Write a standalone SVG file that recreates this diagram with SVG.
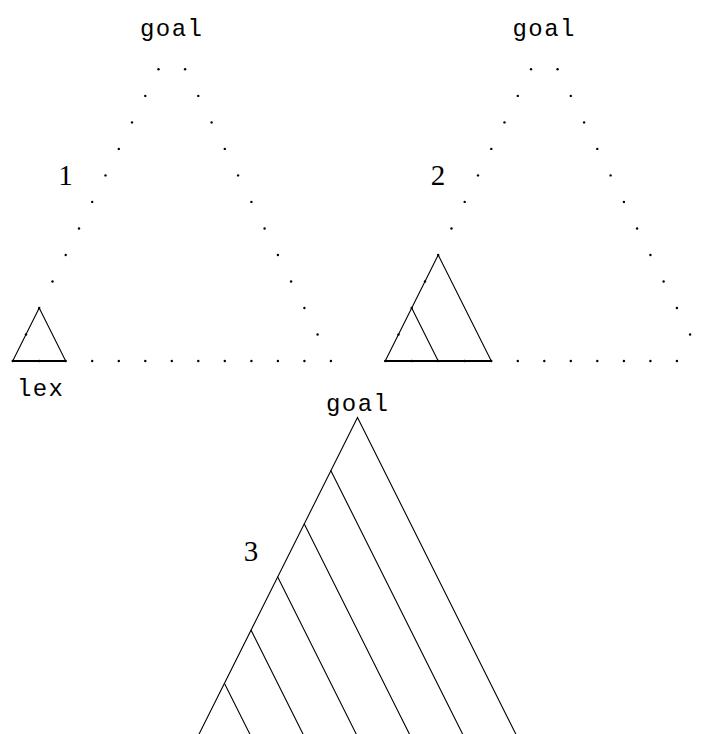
<svg xmlns="http://www.w3.org/2000/svg" width="701" height="734" viewBox="0 0 701 734">
<defs>
<style>
.mono{font-family:"Liberation Mono","DejaVu Sans Mono",monospace;font-size:24px;fill:#000}
.num{font-family:"Liberation Serif","DejaVu Serif",serif;font-size:29px;fill:#000}
.ln{stroke:#000;stroke-width:1.1;fill:none;stroke-linecap:round}
.base{stroke:#000;stroke-width:2.2;fill:none}
.dot{fill:#000}
</style>
<circle id="d" r="1.2"/>
</defs>
<rect width="701" height="734" fill="#fff"/>

<g id="panel1">
<text class="mono" x="171" y="36" text-anchor="middle" textLength="62" lengthAdjust="spacing">goal</text>
<text class="num" x="65.5" y="185" text-anchor="middle">1</text>
<text class="mono" x="40" y="396" text-anchor="middle" textLength="46" lengthAdjust="spacing">lex</text>
<g class="dot">
<use href="#d" x="158.5" y="69.3"/><use href="#d" x="145.3" y="95.9"/><use href="#d" x="132" y="122.4"/><use href="#d" x="118.8" y="148.9"/><use href="#d" x="105.5" y="175.4"/><use href="#d" x="92.2" y="201.9"/><use href="#d" x="79" y="228.5"/><use href="#d" x="65.7" y="255"/><use href="#d" x="52.5" y="281.5"/><use href="#d" x="39.2" y="308"/><use href="#d" x="26" y="334.5"/><use href="#d" x="12.7" y="361"/>
<use href="#d" x="185.1" y="69.3"/><use href="#d" x="198.3" y="95.9"/><use href="#d" x="211.6" y="122.4"/><use href="#d" x="224.8" y="148.9"/><use href="#d" x="238.1" y="175.4"/><use href="#d" x="251.4" y="201.9"/><use href="#d" x="264.6" y="228.5"/><use href="#d" x="277.9" y="255"/><use href="#d" x="291.1" y="281.5"/><use href="#d" x="304.4" y="308"/><use href="#d" x="317.6" y="334.5"/><use href="#d" x="330.9" y="361"/>
<use href="#d" x="39.2" y="361"/><use href="#d" x="65.7" y="361"/><use href="#d" x="92.2" y="361"/><use href="#d" x="118.8" y="361"/><use href="#d" x="145.3" y="361"/><use href="#d" x="171.8" y="361"/><use href="#d" x="198.3" y="361"/><use href="#d" x="224.8" y="361"/><use href="#d" x="251.4" y="361"/><use href="#d" x="277.9" y="361"/><use href="#d" x="304.4" y="361"/>
</g>
<path class="ln" d="M12.7,361 L39.2,308 L65.7,361"/>
<path class="base" d="M12.7,361 H65.7"/>
</g>

<g id="panel2" transform="translate(372.5,0)">
<text class="mono" x="171" y="36" text-anchor="middle" textLength="62" lengthAdjust="spacing">goal</text>
<text class="num" x="65.5" y="185" text-anchor="middle">2</text>
<g class="dot">
<use href="#d" x="158.5" y="69.3"/><use href="#d" x="145.3" y="95.9"/><use href="#d" x="132" y="122.4"/><use href="#d" x="118.8" y="148.9"/><use href="#d" x="105.5" y="175.4"/><use href="#d" x="92.2" y="201.9"/><use href="#d" x="79" y="228.5"/><use href="#d" x="65.7" y="255"/><use href="#d" x="52.5" y="281.5"/><use href="#d" x="39.2" y="308"/><use href="#d" x="26" y="334.5"/><use href="#d" x="12.7" y="361"/>
<use href="#d" x="185.1" y="69.3"/><use href="#d" x="198.3" y="95.9"/><use href="#d" x="211.6" y="122.4"/><use href="#d" x="224.8" y="148.9"/><use href="#d" x="238.1" y="175.4"/><use href="#d" x="251.4" y="201.9"/><use href="#d" x="264.6" y="228.5"/><use href="#d" x="277.9" y="255"/><use href="#d" x="291.1" y="281.5"/><use href="#d" x="304.4" y="308"/><use href="#d" x="317.6" y="334.5"/><use href="#d" x="330.9" y="361"/>
<use href="#d" x="39.2" y="361"/><use href="#d" x="65.7" y="361"/><use href="#d" x="92.2" y="361"/><use href="#d" x="118.8" y="361"/><use href="#d" x="145.3" y="361"/><use href="#d" x="171.8" y="361"/><use href="#d" x="198.3" y="361"/><use href="#d" x="224.8" y="361"/><use href="#d" x="251.4" y="361"/><use href="#d" x="277.9" y="361"/><use href="#d" x="304.4" y="361"/>
</g>
<path class="ln" d="M12.7,361 L65.7,255 L118.8,361"/>
<path class="ln" d="M39.2,308 L65.7,361"/>
<path class="base" d="M12.7,361 H118.8"/>
</g>

<g id="panel3">
<text class="mono" x="357" y="411" text-anchor="middle" textLength="62" lengthAdjust="spacing">goal</text>
<text class="num" x="251" y="561" text-anchor="middle">3</text>
<path class="ln" d="M197.1,738 L357.5,417.5 L517.8,738"/>
<path class="ln" d="M330.9,470.7 L464.6,738"/>
<path class="ln" d="M304.3,523.9 L411.4,738"/>
<path class="ln" d="M277.7,577.1 L358.2,738"/>
<path class="ln" d="M251.1,630.3 L305,738"/>
<path class="ln" d="M224.5,683.5 L251.8,738"/>
</g>
</svg>
